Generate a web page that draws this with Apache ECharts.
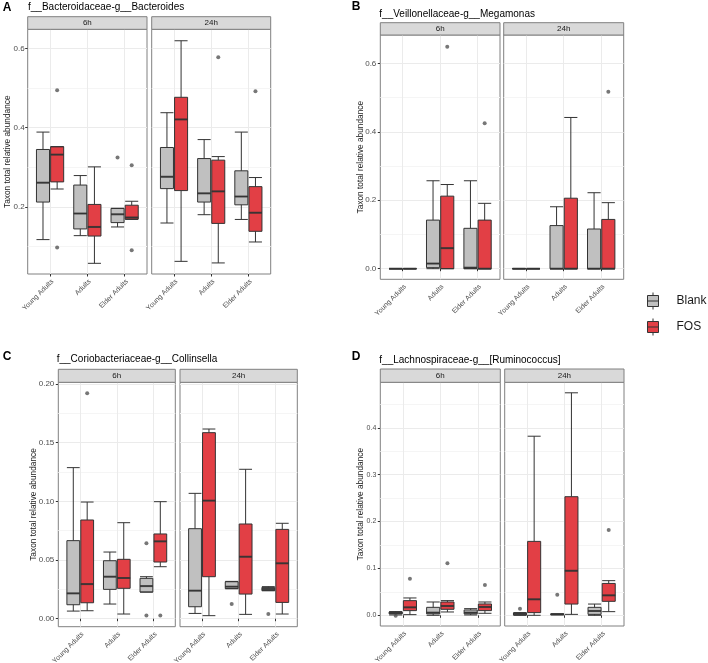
<!DOCTYPE html>
<html><head><meta charset="utf-8">
<script src="https://cdn.jsdelivr.net/npm/echarts@6/dist/echarts.min.js"></script>
<style>html,body{margin:0;padding:0;background:#fff}#c{width:708px;height:663px}</style>
</head><body><div id="c"></div>
<script>
const groups = ['Young Adults', 'Adults', 'Elder Adults'];
const timepoints = ['6h', '24h'];
const treatments = ['Blank', 'FOS'];

// Each box: [lower whisker, Q1, median, Q3, upper whisker]; outliers: [groupIndex, value]
// A: Bacteroides
const bactBlank6 = [[0.117,0.212,0.261,0.345,0.389],[0.127,0.144,0.183,0.255,0.279],[0.149,0.160,0.181,0.196,0.196]];
const bactFos6   = [[0.245,0.263,0.332,0.352,0.352],[0.057,0.126,0.149,0.206,0.301],[0.168,0.169,0.173,0.204,0.214]];
const bactBlank24= [[0.159,0.246,0.276,0.350,0.438],[0.180,0.212,0.234,0.322,0.370],[0.168,0.205,0.226,0.291,0.389]];
const bactFos24  = [[0.062,0.241,0.421,0.477,0.620],[0.058,0.158,0.239,0.318,0.327],[0.111,0.138,0.185,0.251,0.274]];
const bactBlank6Out = [[2,0.325]];
const bactFos6Out = [[0,0.495],[0,0.097],[2,0.305],[2,0.090]];
const bactBlank24Out = [];
const bactFos24Out = [[1,0.578],[2,0.492]];

// B: Megamonas
const megaBlank6 = [[0,0,0,0,0],[0,0.003,0.015,0.142,0.257],[0,0,0.003,0.118,0.257]];
const megaFos6   = [[0,0,0,0,0],[0,0,0.060,0.212,0.246],[0,0,0,0.142,0.191]];
const megaBlank24= [[0,0,0,0,0],[0,0,0,0.126,0.181],[0,0,0,0.116,0.222]];
const megaFos24  = [[0,0,0,0,0],[0,0,0,0.206,0.442],[0,0,0,0.144,0.193]];
const megaBlank6Out = [];
const megaFos6Out = [[1,0.649],[2,0.425]];
const megaBlank24Out = [];
const megaFos24Out = [[2,0.517]];

// C: Collinsella
const collBlank6 = [[0.0065,0.0119,0.0216,0.0665,0.1287],[0.0125,0.025,0.0358,0.0494,0.0568],[0.0227,0.0227,0.0278,0.0344,0.0358]];
const collFos6   = [[0.0068,0.0136,0.0295,0.0841,0.0994],[0.004,0.0259,0.0347,0.0506,0.0818],[0.0443,0.0483,0.0659,0.0722,0.0997]];
const collBlank24= [[0.0045,0.0102,0.0239,0.0767,0.1068],[0.0256,0.0256,0.0273,0.0315,0.0318],[0.0239,0.0239,0.0253,0.0267,0.0273]];
const collFos24  = [[0.0026,0.0358,0.1006,0.1585,0.1616],[0.0037,0.021,0.0528,0.0807,0.1273],[0.004,0.0139,0.0472,0.0761,0.0813]];
const collBlank6Out = [[2,0.0642],[2,0.0028]];
const collFos6Out = [[0,0.192],[2,0.0028]];
const collBlank24Out = [[1,0.0125],[2,0.004]];
const collFos24Out = [];

// D: [Ruminococcus]
const rumiBlank6 = [[0.0007,0.003,0.005,0.0071,0.0078],[0,0.003,0.0057,0.017,0.0284],[0.0007,0.003,0.0057,0.0114,0.0142]];
const rumiFos6   = [[0.0014,0.01,0.017,0.0313,0.037],[0.0071,0.0128,0.0199,0.0284,0.0313],[0.0043,0.01,0.0178,0.0242,0.0284]];
const rumiBlank24= [[0,0.0007,0.003,0.005,0.0057],[0.001,0.0015,0.002,0.003,0.003],[0,0.002,0.0092,0.017,0.024]];
const rumiFos24  = [[0,0.0057,0.0341,0.1577,0.382],[0.002,0.024,0.095,0.253,0.4746],[0.0078,0.0298,0.0426,0.068,0.0739]];
const rumiBlank6Out = [[0,-0.001]];
const rumiFos6Out = [[0,0.078],[1,0.111],[2,0.0647]];
const rumiBlank24Out = [[0,0.0142],[1,0.044]];
const rumiFos24Out = [[2,0.182]];

const titles = ['f__Bacteroidaceae-g__Bacteroides','f__Veillonellaceae-g__Megamonas','f__Coriobacteriaceae-g__Collinsella','f__Lachnospiraceae-g__[Ruminococcus]'];
const letters = ['A','B','C','D'];
const yAxisTitle = 'Taxon total relative abundance';

// layout (pixels) and axis ranges
const layouts = [
  {panels:[[27.7,147],[151.7,270.7]], stripTop:16.7, plotTop:29.3, bottom:274, ymin:0.030, ymax:0.649, major:0.2, dec:1, labMargin:3, labSize:8, letter:[2.7,7.5], title:[28,7.3], ylab:[7.3,151.7]},
  {panels:[[380.3,500],[503.7,623.7]], stripTop:22.7, plotTop:35, bottom:279.3, ymin:-0.031, ymax:0.683, major:0.2, dec:1, labMargin:4, labSize:8, letter:[351.7,6.7], title:[379.3,14], ylab:[360.7,157.2]},
  {panels:[[58.3,175.3],[180,297.3]], stripTop:369.3, plotTop:382.3, bottom:626.7, ymin:-0.0068, ymax:0.2014, major:0.05, dec:2, labMargin:4, labSize:8, letter:[2.7,356.7], title:[56.7,359.3], ylab:[33.3,504.5]},
  {panels:[[380.3,500.3],[504.7,624]], stripTop:369, plotTop:382.3, bottom:626, ymin:-0.0228, ymax:0.497, major:0.1, dec:1, labMargin:4, labSize:7, letter:[351.7,356.7], title:[379.3,360], ylab:[360.7,504.2]}
];
const chartData = [
  [[bactBlank6,bactFos6,bactBlank6Out,bactFos6Out],[bactBlank24,bactFos24,bactBlank24Out,bactFos24Out]],
  [[megaBlank6,megaFos6,megaBlank6Out,megaFos6Out],[megaBlank24,megaFos24,megaBlank24Out,megaFos24Out]],
  [[collBlank6,collFos6,collBlank6Out,collFos6Out],[collBlank24,collFos24,collBlank24Out,collFos24Out]],
  [[rumiBlank6,rumiFos6,rumiBlank6Out,rumiFos6Out],[rumiBlank24,rumiFos24,rumiBlank24Out,rumiFos24Out]]
];

const FONT = '"Liberation Sans", Arial, Helvetica, sans-serif';
const GRAY = '#C0C0C0', RED = '#E23F45', LINE = '#333333', FRAME = '#808080';
const DODGE = 0.19, BOXW = 0.35;

const option = {animation:false, grid:[], xAxis:[], yAxis:[], series:[], graphic:[]};

function addPanel(L, pi, boxesB, boxesF, outB, outF, time) {
  const x0 = L.panels[pi][0], x1 = L.panels[pi][1];
  const w = x1 - x0, u = w / 3.2, top = L.plotTop, h = L.bottom - L.plotTop;
  const gi = option.grid.length;
  option.grid.push({left:x0, top:top, width:w, height:h, show:true, backgroundColor:'#fff', borderColor:FRAME, borderWidth:1, containLabel:false, outerBoundsMode:'none'});
  option.xAxis.push({gridIndex:gi, type:'value', min:0.4, max:3.6, minInterval:1, maxInterval:1,
    axisLine:{show:false}, axisTick:{show:true, length:2.5, lineStyle:{color:'#333'}},
    axisLabel:{show:true, rotate:45, fontSize:7, fontFamily:FONT, color:'#4D4D4D', margin:4, verticalAlign:'top',
      showMinLabel:false, showMaxLabel:false,
      formatter: v => groups[Math.round(v) - 1] || ''},
    splitLine:{show:true, showMinLine:false, showMaxLine:false, lineStyle:{color:'#EBEBEB', width:1}}});
  option.yAxis.push({gridIndex:gi, type:'value', min:L.ymin, max:L.ymax, minInterval:L.major, maxInterval:L.major,
    axisLine:{show:false}, axisTick:{show:pi === 0, length:2.5, lineStyle:{color:'#333'}},
    axisLabel:{show:pi === 0, fontSize:L.labSize, fontFamily:FONT, color:'#4D4D4D', margin:L.labMargin, showMinLabel:false, showMaxLabel:false,
      formatter: v => v.toFixed(L.dec)},
    splitLine:{show:true, showMinLine:false, showMaxLine:false, lineStyle:{color:'#EBEBEB', width:1}},
    minorTick:{show:false, splitNumber:2},
    minorSplitLine:{show:true, lineStyle:{color:'#F5F5F5', width:1}}});
  const bw = BOXW * u;
  [['Blank', boxesB, outB, -1, GRAY], ['FOS', boxesF, outF, 1, RED]].forEach(([name, boxes, outs, sgn, col]) => {
    const gj = option.grid.length;
    option.grid.push({left:x0 + 0.1 * u + sgn * DODGE * u, top:top, width:3 * u, height:h, show:false, containLabel:false, outerBoundsMode:'none'});
    const xi = option.xAxis.length;
    option.xAxis.push({gridIndex:gj, type:'category', data:groups, boundaryGap:true, show:false});
    const yi = option.yAxis.length;
    option.yAxis.push({gridIndex:gj, type:'value', min:L.ymin, max:L.ymax, show:false, splitLine:{show:false}});
    option.series.push({type:'boxplot', name:name, xAxisIndex:xi, yAxisIndex:yi, data:boxes, boxWidth:[bw, bw],
      itemStyle:{color:col, borderColor:LINE, borderWidth:1}, emphasis:{disabled:true}, z:3});
    option.series.push({type:'scatter', name:name + ' median', xAxisIndex:xi, yAxisIndex:yi,
      data:boxes.map((b, i) => [i, b[2]]), symbol:'rect', symbolSize:[bw, 2], itemStyle:{color:LINE}, z:4, silent:true});
    option.series.push({type:'scatter', name:name + ' outlier', xAxisIndex:xi, yAxisIndex:yi,
      data:outs, symbol:'circle', symbolSize:4, itemStyle:{color:'#555'}, z:4, silent:true});
  });
  // strip
  option.graphic.push({type:'rect', shape:{x:x0, y:L.stripTop, width:w, height:L.plotTop - L.stripTop},
    style:{fill:'#D9D9D9', stroke:FRAME, lineWidth:1}, z:5});
  option.graphic.push({type:'text', x:(x0 + x1) / 2, y:(L.stripTop + L.plotTop) / 2,
    style:{text:time, fontSize:8, fontFamily:FONT, fill:'#1A1A1A', align:'center', verticalAlign:'middle'}, z:6});
}

layouts.forEach((L, ci) => {
  chartData[ci].forEach((d, pi) => addPanel(L, pi, d[0], d[1], d[2], d[3], timepoints[pi]));
  option.graphic.push({type:'text', x:L.letter[0], y:L.letter[1],
    style:{text:letters[ci], fontSize:12, fontWeight:'bold', fontFamily:FONT, fill:'#000', align:'left', verticalAlign:'middle'}, z:6});
  option.graphic.push({type:'text', x:L.title[0], y:L.title[1],
    style:{text:titles[ci], fontSize:10, fontFamily:FONT, fill:'#000', align:'left', verticalAlign:'middle'}, z:6});
  option.graphic.push({type:'text', x:L.ylab[0], y:L.ylab[1], rotation:Math.PI / 2,
    style:{text:yAxisTitle, fontSize:8.3, fontFamily:FONT, fill:'#1A1A1A', align:'center', verticalAlign:'middle'}, z:6});
});

option.legend = {orient:'vertical', left:647, top:292, padding:0, itemWidth:11, itemHeight:17, itemGap:8, selectedMode:false,
  icon:'path://M5.5 0V3M0 3H11V14H0ZM0 8.5H11M5.5 14V17',
  textStyle:{fontSize:12, fontFamily:FONT, color:'#1A1A1A', padding:[0,0,0,13]},
  data:[{name:treatments[0], itemStyle:{color:GRAY, borderColor:LINE, borderWidth:1}},
        {name:treatments[1], itemStyle:{color:RED, borderColor:LINE, borderWidth:1}}]};

const chart = echarts.init(document.getElementById('c'), null, {renderer:'canvas'});
chart.setOption(option);
</script></body></html>
